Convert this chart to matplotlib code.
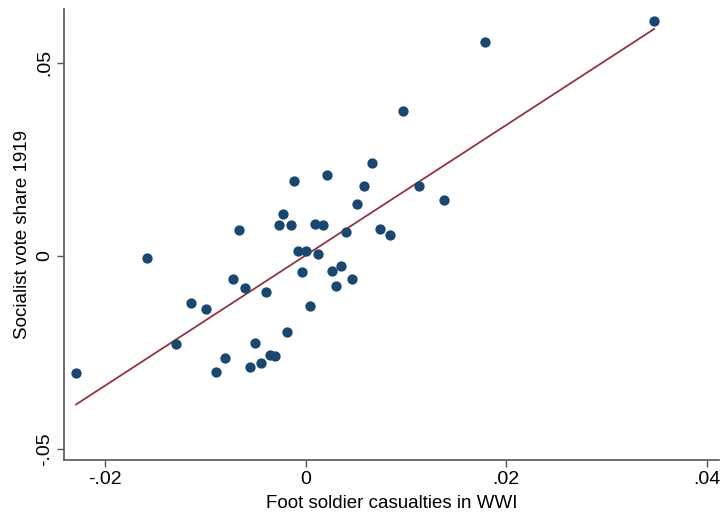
import numpy as np
import matplotlib
matplotlib.use("Agg")
import matplotlib.pyplot as plt

plt.rcParams.update({
    "font.family": ["Liberation Sans", "DejaVu Sans"],
    "font.size": 14,
    "xtick.direction": "out",
    "ytick.direction": "out",
})

# binned residuals: casualties (x) vs socialist vote share (y)
casualties = np.array([
    -0.02293, -0.01584, -0.01298, -0.01142, -0.00999, -0.00899, -0.00809,
    -0.00729, -0.00666, -0.00607, -0.00557, -0.00504, -0.00444, -0.00400,
    -0.00354, -0.00304, -0.00267, -0.00224, -0.00185, -0.00144, -0.00114,
    -0.00075, -0.00038, 0.00000, 0.00045, 0.00089, 0.00125, 0.00168,
    0.00212, 0.00262, 0.00302, 0.00351, 0.00402, 0.00458, 0.00512,
    0.00583, 0.00657, 0.00740, 0.00840, 0.00970, 0.01133, 0.01376,
    0.01788, 0.03477,
])
vote_share = np.array([
    -0.0304, -0.0005, -0.0230, -0.0123, -0.0137, -0.0301, -0.0265,
    -0.0060, 0.0066, -0.0084, -0.0289, -0.0225, -0.0279, -0.0094,
    -0.0257, -0.0260, 0.0079, 0.0109, -0.0198, 0.0079, 0.0193,
    0.0012, -0.0043, 0.0011, -0.0131, 0.0081, 0.0003, 0.0079,
    0.0209, -0.0039, -0.0079, -0.0026, 0.0060, -0.0060, 0.0135,
    0.0181, 0.0239, 0.0068, 0.0053, 0.0375, 0.0180, 0.0143,
    0.0554, 0.0607,
])

xticks = [-0.02, 0.0, 0.02, 0.04]
xticklabels = ["-.02", "0", ".02", ".04"]
yticks = [-0.05, 0.0, 0.05]
yticklabels = ["-.05", "0", ".05"]

# fitted line
fit_intercept = 0.0001
fit_slope = 1.686
fit_x = np.array([casualties.min(), casualties.max()])
fit_y = fit_intercept + fit_slope * fit_x

fig = plt.figure(figsize=(7.24, 5.16), dpi=100)
ax = fig.add_axes([0.0888, 0.108, 0.9047, 0.874])

ax.scatter(casualties, vote_share, s=55, color="#1a476f", linewidths=0, zorder=3)
ax.plot(fit_x, fit_y, color="#90353b", lw=1.3, zorder=2)

ax.set_xlim(-0.0241, 0.04126)
ax.set_ylim(-0.0530, 0.0638)
ax.set_xticks(xticks, xticklabels)
ax.set_yticks(yticks, yticklabels)
ax.tick_params(axis="y", labelrotation=90)
for lbl in ax.get_yticklabels():
    lbl.set_va("center")
ax.tick_params(length=5, width=1, color="#555555", labelsize=14, pad=3)

for side in ("top", "right"):
    ax.spines[side].set_visible(False)
for side in ("left", "bottom"):
    ax.spines[side].set_color("#555555")
    ax.spines[side].set_linewidth(1.2)

ax.set_xlabel("Foot soldier casualties in WWI", fontsize=13.5, labelpad=5)
ax.set_ylabel("Socialist vote share 1919", fontsize=13.5, labelpad=4)

fig.savefig("out.png", dpi=100)
